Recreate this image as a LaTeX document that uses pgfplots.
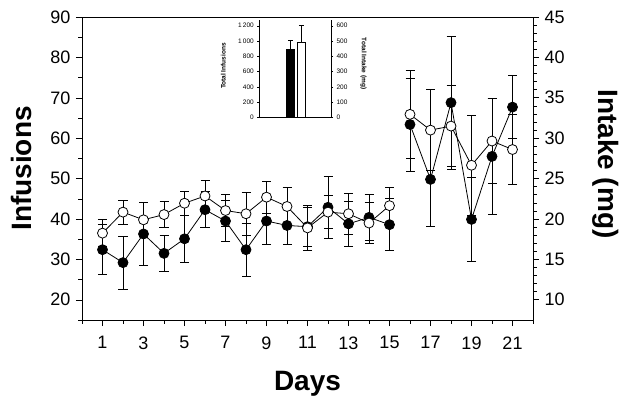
\documentclass[border=0pt]{standalone}
\usepackage{fontspec}
\setmainfont{Liberation Sans}
\usepackage{pgfplots}
\pgfplotsset{compat=1.18}
\usepackage{pgfplotstable}

\pgfplotstableread{
x y e
1 32.4 6.2
2 29.2 6.6
3 36.3 7.7
4 31.5 4.4
5 35.1 5.8
6 42.3 4.5
7 39.5 5.0
8 32.4 6.5
9 39.5 5.7
10 38.4 4.7
11 38.1 4.8
12 42.9 7.7
13 38.8 5.6
14 40.4 5.7
15 38.6 6.4
}\blackA
\pgfplotstableread{
x y e
16 63.4 11.5
17 49.8 11.7
18 68.8 16.5
19 39.9 10.4
20 55.5 14.4
21 67.7 7.8
}\blackB
\pgfplotstableread{
x y e
1 36.5 3.3
2 41.7 3.0
3 39.8 4.2
4 41.1 3.3
5 43.9 3.0
6 45.7 3.9
7 42.1 4.0
8 41.3 5.3
9 45.4 3.9
10 43.1 4.6
11 37.8 5.5
12 41.7 4.1
13 41.3 5.0
14 39.0 5.0
15 43.3 4.4
}\openA
\pgfplotstableread{
x y e
16 65.9 11.0
17 62.0 10.0
18 63.0 10.0
19 53.3 12.4
20 59.3 10.5
21 57.2 8.7
}\openB

\pgfplotsset{
  mainax/.style={at={(82bp,87bp)}, anchor=south west, scale only axis,
    width=451bp, height=303bp, xmin=0, xmax=22,
    /pgf/number format/assume math mode=true,
    tick align=outside, major tick length=6bp, minor tick length=3.5bp,
    every tick/.style={black, line width=0.6pt},
    axis line style={line width=0.8pt},
    ticklabel style={font=\fontsize{18bp}{20bp}\selectfont},
    label style={font=\bfseries\fontsize{28bp}{30bp}\selectfont}},
  blk/.style={black, line width=0.8pt, mark=*, mark size=5bp,
    mark options={solid, fill=black, draw=black},
    error bars/.cd, y dir=both, y explicit,
    error bar style={line width=0.8pt},
    error mark options={rotate=90, mark size=4.5bp, line width=0.8pt}},
  opn/.style={black, line width=0.8pt, mark=*, mark size=5bp,
    mark options={solid, fill=white, draw=black},
    error bars/.cd, y dir=both, y explicit,
    error bar style={line width=0.8pt},
    error mark options={rotate=90, mark size=4.5bp, line width=0.8pt}},
  insax/.style={at={(259.3bp,289.7bp)}, anchor=south west, scale only axis,
    width=71.7bp, height=97.7bp, xmin=0, xmax=1,
    axis line style={-, line width=0.5pt},
    tick align=outside, major tick length=2bp, minor tick length=1.2bp,
    every tick/.style={black, line width=0.4pt},
    /pgf/number format/assume math mode=true,
    /pgf/number format/1000 sep={\,},
    yticklabel style={font=\fontsize{6.5bp}{7bp}\selectfont},
    ylabel style={font=\bfseries\fontsize{6.5bp}{7bp}\selectfont}},
}

\begin{document}
\begin{tikzpicture}
\useasboundingbox (0bp,0bp) rectangle (629bp,407bp);

\begin{axis}[mainax, ymin=15, ymax=90,
  xtick={1,3,...,21}, minor xtick={0,2,...,22},
  ytick={20,30,...,90}, minor ytick={15,25,...,85},
  xtick pos=bottom, ytick pos=left,
  xticklabel style={yshift=-7bp},
  yticklabel style={xshift=-2bp},
  xlabel={Days}, ylabel={Infusions},
  xlabel style={at={(axis description cs:0.5,-0.2343)}, anchor=base},
  ylabel style={at={(axis description cs:-0.1109,0.5)}, anchor=base}]
\addplot[blk] table[x=x, y=y, y error=e] {\blackA};
\addplot[blk] table[x=x, y=y, y error=e] {\blackB};
\addplot[opn] table[x=x, y=y, y error=e] {\openA};
\addplot[opn] table[x=x, y=y, y error=e] {\openB};
\end{axis}

\begin{axis}[mainax, ymin=7.5, ymax=45,
  axis y line*=right, axis x line=none,
  ytick={10,15,...,45}, minor y tick num=4,
  yticklabel style={xshift=2bp},
  ylabel={Intake (mg)},
  ylabel style={at={(axis description cs:1.1463,0.515)}, anchor=base, rotate=-180}]
\end{axis}

\begin{axis}[insax, ymin=0, ymax=1280,
  axis x line*=bottom, axis y line*=left,
  xtick=\empty, ytick={0,200,...,1200},
  ylabel={Total Infusions},
  ylabel style={at={(axis description cs:-0.471,0.525)}, anchor=base}]
\addplot[ybar, bar shift=0pt, bar width=7.3bp, fill=black, draw=black,
  error bars/.cd, y dir=plus, y explicit,
  error bar style={line width=0.5pt},
  error mark options={rotate=90, mark size=2.5bp, line width=0.5pt}]
  coordinates {(0.432,895) +- (0,110)};
\addplot[ybar, bar shift=0pt, bar width=7.3bp, fill=white, draw=black,
  error bars/.cd, y dir=plus, y explicit,
  error bar style={line width=0.5pt},
  error mark options={rotate=90, mark size=2.5bp, line width=0.5pt}]
  coordinates {(0.586,983) +- (0,227)};
\end{axis}

\begin{axis}[insax, ymin=0, ymax=640,
  axis y line*=right, axis x line=none,
  ytick={0,100,...,600}, minor y tick num=1,
  ylabel={Total Intake (mg)},
  ylabel style={at={(axis description cs:1.432,0.55)}, anchor=base, rotate=-180}]
\end{axis}
\end{tikzpicture}
\end{document}
